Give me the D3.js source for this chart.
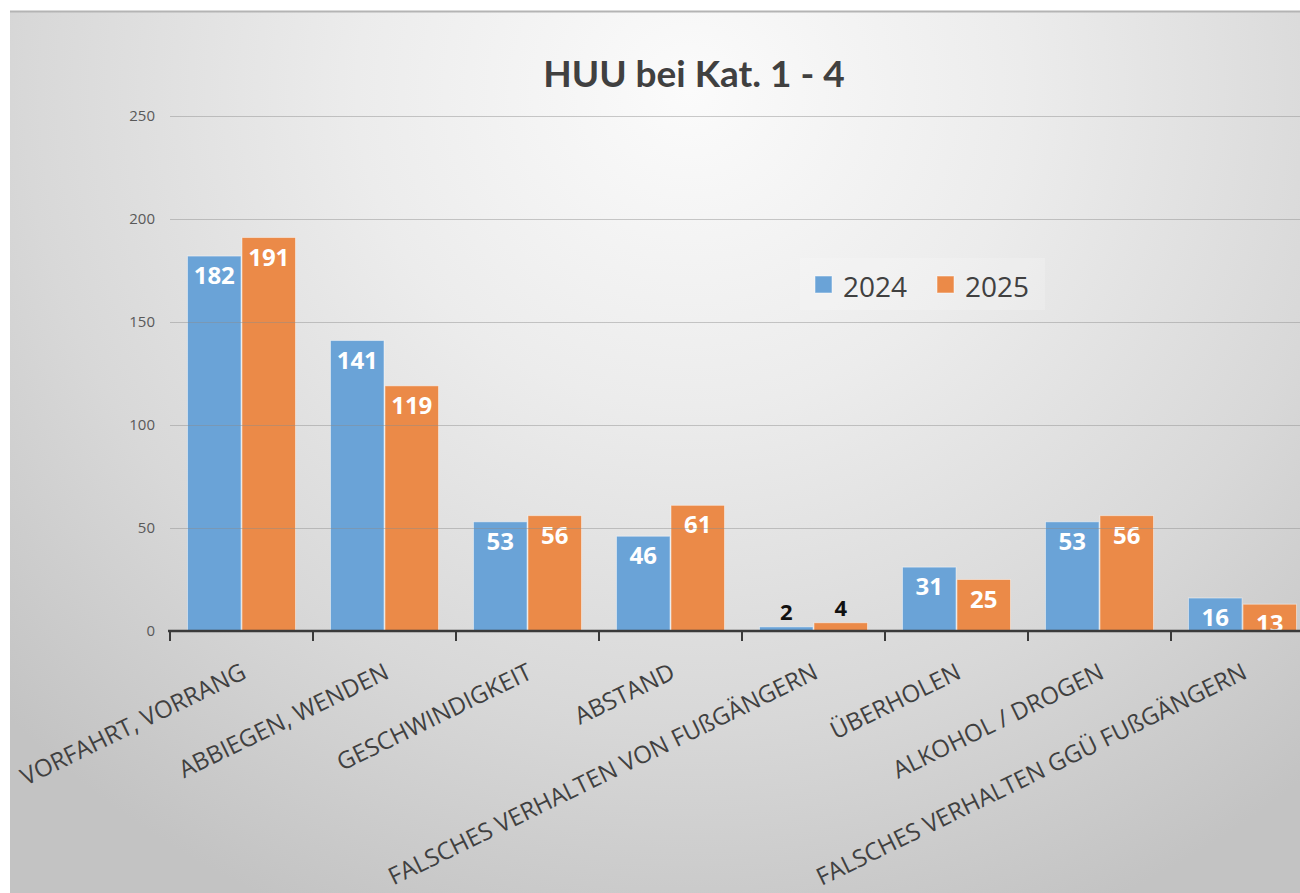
<!DOCTYPE html>
<html>
<head>
<meta charset="utf-8">
<script src="https://cdn.jsdelivr.net/npm/d3@7"></script>
<style>
  html, body { margin: 0; padding: 0; background: #ffffff; }
  svg { display: block; }
</style>
</head>
<body>
<svg id="chart" width="1300" height="893"></svg>
<script>
// Unfallursachen (HUU) bei Kategorie 1 - 4, Vergleich 2024 / 2025
const categories = [
  "VORFAHRT, VORRANG",
  "ABBIEGEN, WENDEN",
  "GESCHWINDIGKEIT",
  "ABSTAND",
  "FALSCHES VERHALTEN VON FUßGÄNGERN",
  "ÜBERHOLEN",
  "ALKOHOL / DROGEN",
  "FALSCHES VERHALTEN GGÜ FUßGÄNGERN"
];
const seriesNames = ["2024", "2025"];
const values2024 = [182, 141, 53, 46, 2, 31, 53, 16];
const values2025 = [191, 119, 56, 61, 4, 25, 56, 13];
const yTicks = [0, 50, 100, 150, 200, 250];
const seriesColors = ["#6aa3d7", "#eb8a48"];
const titleText = "HUU bei Kat. 1 - 4";

const svg = d3.select("#chart");
const W = 1300, H = 893;

// Background: slide-like radial gradient, bright at the top centre
const defs = svg.append("defs");
const grad = defs.append("radialGradient")
  .attr("id", "bg")
  .attr("gradientUnits", "userSpaceOnUse")
  .attr("cx", 690).attr("cy", 90).attr("r", 950)
  .attr("gradientTransform", "translate(690,90) scale(1,0.95) translate(-690,-90)");
grad.append("stop").attr("offset", "0").attr("stop-color", "#fbfbfb");
grad.append("stop").attr("offset", "0.35").attr("stop-color", "#ececec");
grad.append("stop").attr("offset", "0.7").attr("stop-color", "#d8d8d8");
grad.append("stop").attr("offset", "1").attr("stop-color", "#c3c3c3");

svg.append("rect")
  .attr("x", 10).attr("y", 11)
  .attr("width", W - 10).attr("height", H - 11)
  .attr("fill", "url(#bg)");
// thin shadow along the top edge
svg.append("line")
  .attr("x1", 10).attr("x2", W).attr("y1", 11.5).attr("y2", 11.5)
  .attr("stroke", "#b4b4b4").attr("stroke-width", 2);

// Scales
const x0 = d3.scaleBand()
  .domain(categories)
  .range([170, 170 + 143 * categories.length])
  .padding(0);
const x1 = d3.scaleBand()
  .domain(seriesNames)
  .range([17, 126])
  .padding(0);
const y = d3.scaleLinear().domain([0, 250]).range([631, 116]);

const rows = categories.map((c, i) => ({
  cat: c,
  vals: [
    { key: seriesNames[0], value: values2024[i], color: seriesColors[0] },
    { key: seriesNames[1], value: values2025[i], color: seriesColors[1] }
  ]
}));

// Y axis labels (no axis line), gridlines drawn separately
const yAxis = d3.axisLeft(y).tickValues(yTicks).tickSize(0).tickPadding(0);
const yg = svg.append("g").attr("transform", "translate(155,0)").call(yAxis);
yg.select(".domain").remove();
yg.selectAll("text")
  .attr("fill", "#595959")
  .style("font-family", "'Open Sans', sans-serif")
  .style("font-size", "15px");

// Bars
const groups = svg.append("g").selectAll("g")
  .data(rows).join("g")
  .attr("transform", d => `translate(${x0(d.cat)},0)`);

groups.selectAll("rect")
  .data(d => d.vals).join("rect")
  .attr("x", d => x1(d.key) + 0.5)
  .attr("width", x1.bandwidth() - 1)
  .attr("y", d => y(d.value))
  .attr("height", d => y(0) - y(d.value))
  .attr("fill", d => d.color)
  .attr("stroke", "rgba(255,255,255,0.45)")
  .attr("stroke-width", 1);

// Gridlines (faintly visible through the bars)
svg.append("g").selectAll("line")
  .data(yTicks.filter(t => t > 0)).join("line")
  .attr("x1", 170).attr("x2", W)
  .attr("y1", d => y(d) + 0.5).attr("y2", d => y(d) + 0.5)
  .attr("stroke", "#8c8c8c").attr("stroke-opacity", 0.45).attr("stroke-width", 1.2);

// Category axis with tick marks between categories
const axisY = y(0);
const xAxisG = svg.append("g");
xAxisG.append("line")
  .attr("x1", 168).attr("x2", W)
  .attr("y1", axisY).attr("y2", axisY)
  .attr("stroke", "#3a3a3a").attr("stroke-width", 2.5);
const boundaries = categories.map(c => x0(c)).concat([x0.range()[1]]);
xAxisG.selectAll("line.tick")
  .data(boundaries).join("line")
  .attr("class", "tick")
  .attr("x1", d => d).attr("x2", d => d)
  .attr("y1", axisY).attr("y2", axisY + 10)
  .attr("stroke", "#3a3a3a").attr("stroke-width", 2);

// Value labels
groups.selectAll("text.val")
  .data(d => d.vals).join("text")
  .attr("class", "val")
  .attr("x", d => x1(d.key) + x1.bandwidth() / 2)
  .attr("y", d => {
    const h = y(0) - y(d.value);
    return h < 15 ? y(d.value) - 7 : y(d.value) + 28;
  })
  .attr("text-anchor", "middle")
  .attr("fill", d => (y(0) - y(d.value) < 15 ? "#111111" : "#ffffff"))
  .style("font-family", "'Open Sans', sans-serif")
  .style("font-weight", "bold")
  .style("font-size", d => (y(0) - y(d.value) < 15 ? "22px" : "24px"))
  .text(d => d.value);

// Rotated category labels: top-right corner sits under the category centre
svg.append("g").selectAll("text")
  .data(categories).join("text")
  .attr("transform", d => `translate(${x0(d) + x0.bandwidth() / 2 - 3},659) rotate(-26)`)
  .attr("text-anchor", "end")
  .attr("dominant-baseline", "hanging")
  .attr("fill", "#404040")
  .style("font-family", "'Open Sans', sans-serif")
  .style("font-size", "24px")
  .text(d => d);

// Title
svg.append("text")
  .attr("x", 694).attr("y", 87)
  .attr("text-anchor", "middle")
  .attr("fill", "#404040")
  .style("font-family", "Lato, sans-serif")
  .style("font-weight", "bold")
  .style("font-size", "37px")
  .text(titleText);

// Legend
const legend = svg.append("g").attr("transform", "translate(800,258)");
legend.append("rect")
  .attr("x", 0).attr("y", 0).attr("width", 245).attr("height", 52)
  .attr("fill", "#ffffff").attr("fill-opacity", 0.18);
const li = legend.selectAll("g.item")
  .data(seriesNames).join("g")
  .attr("class", "item")
  .attr("transform", (d, i) => `translate(${15 + i * 122},0)`);
li.append("rect")
  .attr("x", 0).attr("y", 18).attr("width", 17).attr("height", 17)
  .attr("fill", (d, i) => seriesColors[i])
  .attr("stroke", "rgba(255,255,255,0.5)");
li.append("text")
  .attr("x", 28).attr("y", 39)
  .attr("fill", "#404040")
  .style("font-family", "'Open Sans', sans-serif")
  .style("font-size", "28px")
  .text(d => d);
</script>
</body>
</html>
